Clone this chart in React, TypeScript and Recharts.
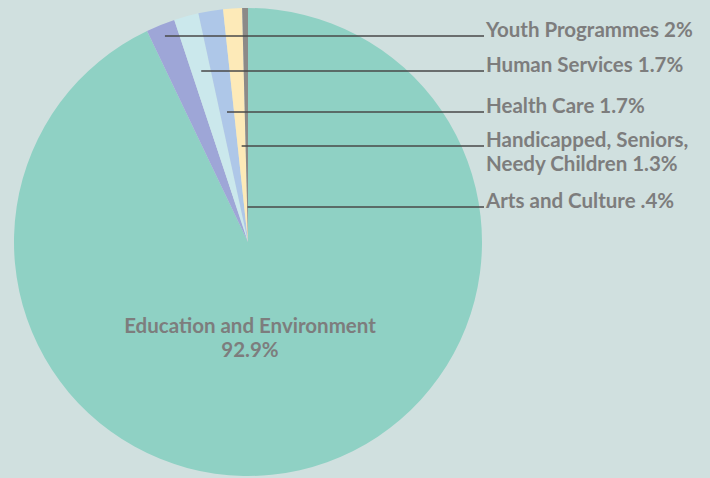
import React from "react";
import { PieChart, Pie, Cell } from "recharts";

const categories = [
  "Education and Environment",
  "Youth Programmes",
  "Human Services",
  "Health Care",
  "Handicapped, Seniors, Needy Children",
  "Arts and Culture",
];
const shares = [92.9, 2, 1.7, 1.7, 1.3, 0.4];
const shareLabels = ["92.9%", "2%", "1.7%", "1.7%", "1.3%", ".4%"];
// label text lines for the small slices (index 0 is the big one, drawn inside)
const labelLines = [
  ["Education and Environment", "92.9%"],
  ["Youth Programmes 2%"],
  ["Human Services 1.7%"],
  ["Health Care 1.7%"],
  ["Handicapped, Seniors,", "Needy Children 1.3%"],
  ["Arts and Culture .4%"],
];
const colors = ["#8fd1c4", "#9ea6d7", "#cbe8ec", "#aec7e8", "#fdeab8", "#8c8a88"];

// layout only
const LABEL_Y = [0, 36, 71, 112, 146, 207];
const LABEL_X = 486;
const TEXT = "#7d7d7d";
const FONT = "Lato, 'Open Sans', sans-serif";
const FS = 20.5;

const data = categories.map((name, i) => ({
  name,
  value: shares[i],
  pct: shareLabels[i],
}));

const RAD = Math.PI / 180;

function renderLabel(props: any) {
  const { cx, cy, midAngle, index } = props;
  const lines = labelLines[index];
  if (index === 0) {
    return (
      <text
        x={cx + 2}
        y={cy + 91}
        textAnchor="middle"
        fill={TEXT}
        fontFamily={FONT}
        fontWeight={700}
        fontSize={FS}
      >
        <tspan x={cx + 2}>{lines[0]}</tspan>
        <tspan x={cx + 2} dy={24}>
          {lines[1]}
        </tspan>
      </text>
    );
  }
  const y = LABEL_Y[index];
  const s = Math.sin(midAngle * RAD);
  const c = Math.cos(midAngle * RAD);
  const r = (cy - y) / s;
  const x0 = cx + r * c;
  return (
    <g>
      <line x1={x0} y1={y} x2={LABEL_X - 2} y2={y} stroke="#484848" strokeWidth={1.3} />
      <text
        x={LABEL_X}
        y={y + 1}
        fill={TEXT}
        fontFamily={FONT}
        fontWeight={700}
        fontSize={FS}
      >
        {lines.map((t, k) => (
          <tspan key={k} x={LABEL_X} dy={k === 0 ? 0 : 24}>
            {t}
          </tspan>
        ))}
      </text>
    </g>
  );
}

export default function App() {
  return (
    <div
      style={{
        position: "fixed",
        left: 0,
        top: 0,
        width: 710,
        height: 478,
        background: "#d0e0df",
      }}
    >
      <PieChart width={710} height={478} margin={{ top: 0, right: 0, bottom: 0, left: 0 }}>
        <Pie
          data={data}
          dataKey="value"
          nameKey="name"
          cx={248}
          cy={242}
          outerRadius={234}
          startAngle={90}
          endAngle={-270}
          stroke="none"
          label={renderLabel}
          labelLine={false}
          isAnimationActive={false}
        >
          {data.map((d, i) => (
            <Cell key={d.name} fill={colors[i]} />
          ))}
        </Pie>
      </PieChart>
    </div>
  );
}
